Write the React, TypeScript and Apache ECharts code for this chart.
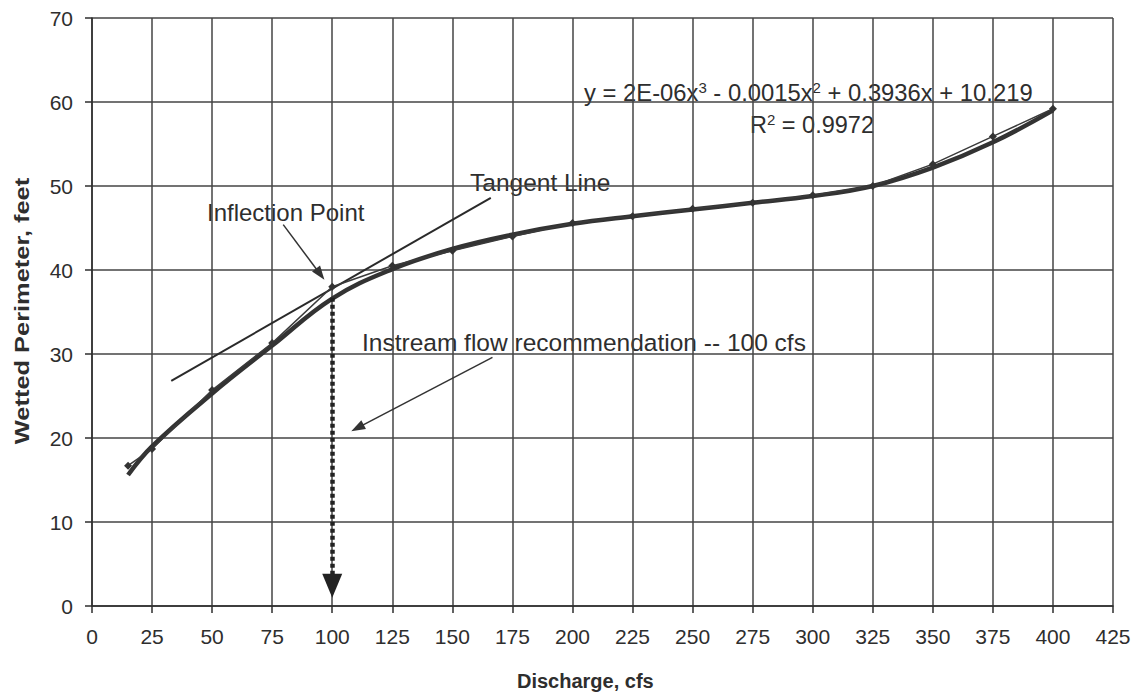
import React, { useEffect, useRef } from "react";
import * as echarts from "echarts";

// Observed points (discharge, cfs) and wetted perimeter (feet)
const discharge = [15, 25, 50, 75, 100, 125, 150, 175, 200, 225, 250, 275, 300, 325, 350, 375, 400];
const wettedPerimeter = [16.7, 18.7, 25.7, 31.3, 38.0, 40.5, 42.3, 44.0, 45.6, 46.4, 47.3, 48.0, 48.9, 50.0, 52.6, 55.9, 59.2];
// Polynomial trend line
const trendPerimeter = [15.6, 19.0, 25.3, 31.0, 36.6, 40.1, 42.5, 44.2, 45.5, 46.4, 47.2, 48.0, 48.8, 50.0, 52.2, 55.2, 59.0];
// Tangent line end points
const tangentX = [33, 166];
const tangentY = [26.8, 48.6];

const xTicks = { min: 0, max: 425, interval: 25 };
const yTicks = { min: 0, max: 70, interval: 10 };

export default function App() {
  const ref = useRef<HTMLDivElement>(null);
  useEffect(() => {
    if (!ref.current) return;
    const chart = echarts.init(ref.current, undefined, { renderer: "svg" });
    const ink = "#2e2e2e";
    const font = "'Liberation Sans', Arial, sans-serif";
    const observed = discharge.map((x, i) => [x, wettedPerimeter[i]]);
    const trend = discharge.map((x, i) => [x, trendPerimeter[i]]);
    const tangent = tangentX.map((x, i) => [x, tangentY[i]]);
    const supStyle = { fontSize: 15, fill: ink, fontFamily: font, verticalAlign: "top", padding: [0, 0, 10, 0] };
    const baseStyle = { fontSize: 23.5, fill: ink, fontFamily: font };
    chart.setOption({
      animation: false,
      backgroundColor: "#ffffff",
      textStyle: { fontFamily: font },
      grid: { left: 92, right: 25, top: 18, bottom: 91, containLabel: false },
      xAxis: {
        type: "value",
        min: xTicks.min,
        max: xTicks.max,
        interval: xTicks.interval,
        axisLine: { show: true, lineStyle: { color: ink, width: 1.5 } },
        axisTick: { show: true, length: 7, lineStyle: { color: ink, width: 1.5 } },
        axisLabel: { color: ink, fontSize: 21, margin: 20, fontFamily: font },
        splitLine: { show: true, lineStyle: { color: "#444", width: 1.5 } },
      },
      yAxis: {
        type: "value",
        min: yTicks.min,
        max: yTicks.max,
        interval: yTicks.interval,
        axisLine: { show: true, lineStyle: { color: ink, width: 1.5 } },
        axisTick: { show: true, length: 7, lineStyle: { color: ink, width: 1.5 } },
        axisLabel: { color: ink, fontSize: 21, margin: 19, fontFamily: font },
        splitLine: { show: true, lineStyle: { color: "#444", width: 1.5 } },
      },
      series: [
        {
          name: "Trend",
          type: "line",
          data: trend,
          smooth: 0.4,
          showSymbol: false,
          symbol: "none",
          lineStyle: { color: "#333", width: 4.5 },
          z: 3,
        },
        {
          name: "Tangent",
          type: "line",
          data: tangent,
          showSymbol: false,
          symbol: "none",
          lineStyle: { color: "#2a2a2a", width: 2 },
          z: 3,
          markLine: {
            silent: true,
            animation: false,
            label: { show: false },
            symbol: ["none", "triangle"],
            symbolSize: [10, 14],
            lineStyle: { color: "#333", width: 1.5, type: "solid" },
            data: [
              [{ coord: [79.6, 45.4] }, { coord: [95.0, 39.5] }],
              [{ coord: [166.7, 29.6] }, { coord: [110.5, 21.2] }],
            ],
          },
        },
        {
          name: "Observed",
          type: "line",
          data: observed,
          symbol: "diamond",
          symbolSize: 8,
          itemStyle: { color: "#333" },
          lineStyle: { color: "#3a3a3a", width: 1.5 },
          z: 4,
          markLine: {
            silent: true,
            animation: false,
            label: { show: false },
            symbol: ["none", "triangle"],
            symbolSize: [20, 24],
            lineStyle: { color: "#222", width: 4.5, type: [4, 3] },
            data: [[{ coord: [100, 36.7] }, { coord: [100, 2.4] }]],
          },
        },
      ],
      graphic: [
        {
          type: "text",
          left: 207,
          top: 200,
          style: { text: "Inflection Point", fill: ink, font: `24px ${font}` },
        },
        {
          type: "text",
          left: 470,
          top: 170,
          style: { text: "Tangent Line", fill: ink, font: `24.5px ${font}` },
        },
        {
          type: "text",
          left: 362,
          top: 330,
          style: { text: "Instream flow recommendation -- 100 cfs", fill: ink, font: `24.5px ${font}` },
        },
        {
          type: "text",
          left: 584,
          top: 80,
          style: {
            text: "y = 2E-06x{sup|3} - 0.0015x{sup|2} + 0.3936x + 10.219",
            ...baseStyle,
            fontSize: 23.8,
            rich: { sup: supStyle },
          },
        },
        {
          type: "text",
          left: 750,
          top: 112,
          style: {
            text: "R{sup|2} = 0.9972",
            ...baseStyle,
            rich: { sup: supStyle },
          },
        },
        {
          type: "text",
          x: 22,
          y: 311,
          rotation: Math.PI / 2,
          scaleX: 1.27,
          style: {
            text: "Wetted Perimeter, feet",
            fill: ink,
            font: `bold 20px ${font}`,
            align: "center",
            verticalAlign: "middle",
          },
        },
        {
          type: "text",
          left: 517,
          top: 671,
          style: { text: "Discharge, cfs", fill: ink, font: `bold 20px ${font}` },
        },
      ],
    });
    return () => chart.dispose();
  }, []);
  return (
    <div
      ref={ref}
      style={{ position: "fixed", left: 0, top: 0, width: 1138, height: 697, background: "#fff" }}
    />
  );
}
